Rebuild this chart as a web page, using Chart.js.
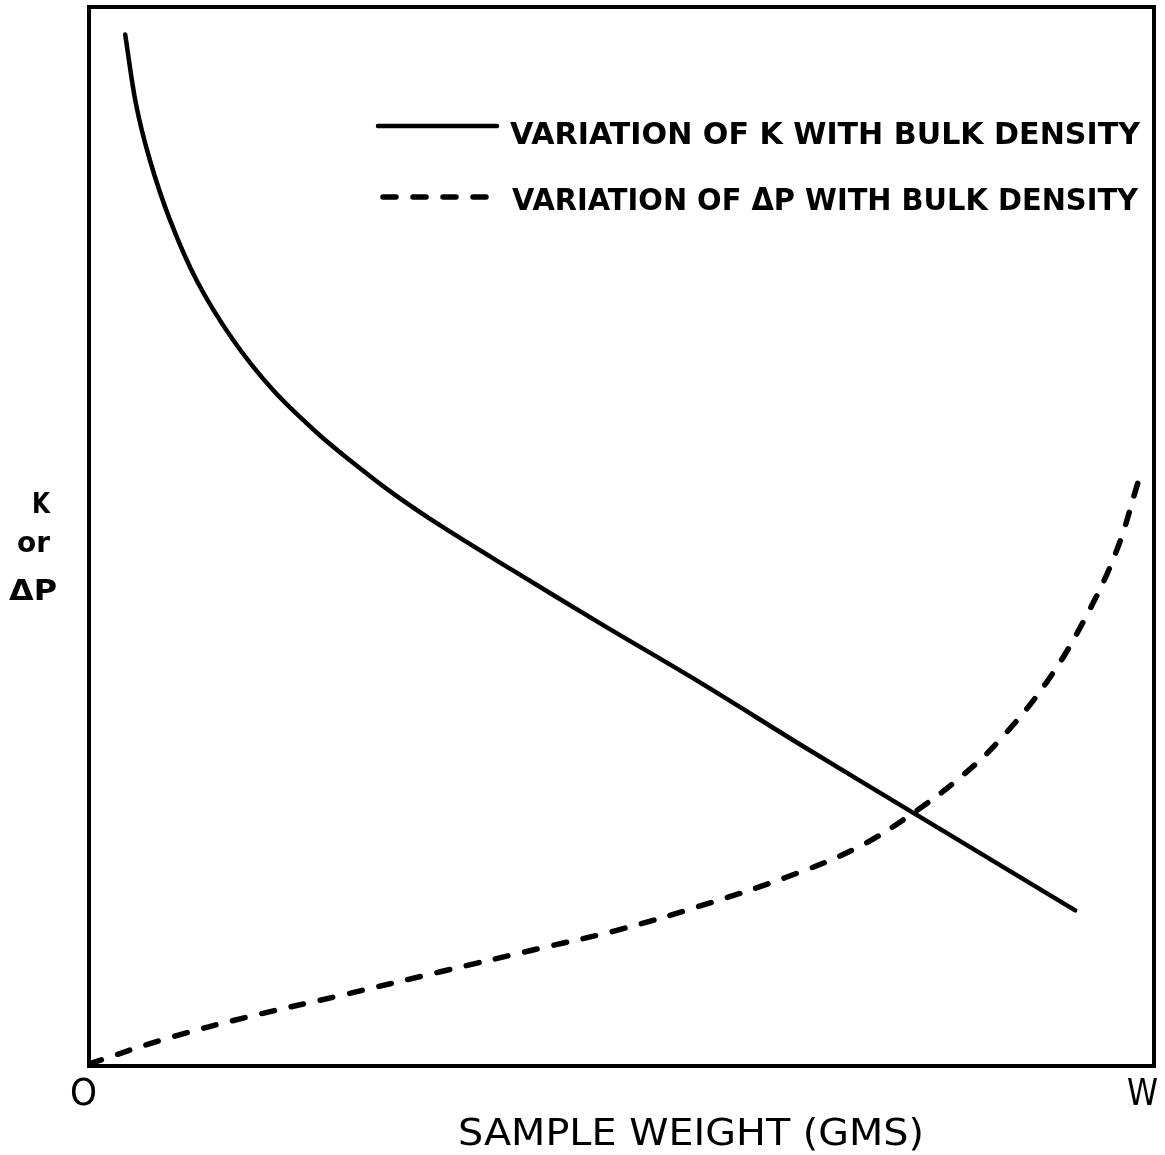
<!DOCTYPE html>
<html>
<head>
<meta charset="utf-8">
<script src="https://cdn.jsdelivr.net/npm/chart.js@4.4.1/dist/chart.umd.min.js"></script>
<style>
  html, body { margin: 0; padding: 0; background: #fff; }
</style>
</head>
<body>
<canvas id="myChart" width="1165" height="1155"></canvas>
<script>
// sample weight runs from O (0) to W (100); K and dP are relative (0-100)
const kWeight = [3.4, 4.4, 5.7, 7.6, 10.1, 13.5, 17.3, 21.4, 24.5, 28.5, 33.2, 39.8, 48.0, 57.4, 67.2, 77.4, 92.6];
const kValue = [97.4, 90.9, 85.6, 79.9, 74.2, 68.6, 63.8, 59.8, 57.2, 54.1, 50.9, 46.8, 41.8, 36.2, 30.1, 23.9, 14.7];

const dpWeight = [0, 7.3, 15.2, 23.8, 33.0, 42.3, 49.9, 58.3, 65.4, 72.1, 77.4, 82.1, 85.8, 90.1, 93.7, 96.5, 98.5];
const dpValue = [0.2, 2.6, 4.7, 6.7, 8.9, 11.1, 12.9, 15.4, 17.8, 20.6, 23.9, 27.5, 31.1, 36.5, 42.6, 48.7, 55.1];

const xTickLabels = ["O", "W"];
const xTitle = "SAMPLE WEIGHT (GMS)";
const yTitle = ["K", "or", "\u0394P"];
const legendLabels = ["VARIATION OF K WITH BULK DENSITY", "VARIATION OF \u0394P WITH BULK DENSITY"];

const toPoints = (xs, ys) => xs.map((x, i) => ({ x: x, y: ys[i] }));

// draw text squeezed/stretched to a given width, left edge at x, baseline at y
function fitText(ctx, text, x, y, width, font) {
  ctx.save();
  ctx.font = font;
  const w = ctx.measureText(text).width;
  ctx.translate(x, y);
  ctx.scale(width / w, 1);
  ctx.textAlign = "left";
  ctx.textBaseline = "alphabetic";
  ctx.fillText(text, 0, 0);
  ctx.restore();
}

const paperPlugin = {
  id: "paper",
  afterDraw(chart) {
    const ctx = chart.ctx;
    const area = chart.chartArea;
    const xs = chart.scales.x;
    ctx.save();
    ctx.fillStyle = "#000";
    ctx.strokeStyle = "#000";

    // frame
    ctx.lineWidth = 4;
    ctx.strokeRect(area.left, area.top, area.right - area.left, area.bottom - area.top);

    // O and W under the axis ends
    fitText(ctx, xTickLabels[0], xs.getPixelForValue(0) - 19, 1105, 27, "38px 'DejaVu Sans'");
    fitText(ctx, xTickLabels[1], xs.getPixelForValue(100) - 27, 1105, 31, "38px 'DejaVu Sans'");
    fitText(ctx, xTitle, 458, 1145, 466, "38px 'DejaVu Sans'");

    // K / or / dP on the left
    fitText(ctx, yTitle[0], 32, 513, 18, "bold 29px 'DejaVu Sans'");
    fitText(ctx, yTitle[1], 17, 552, 33, "bold 29px 'DejaVu Sans'");
    fitText(ctx, yTitle[2], 9, 600, 48, "bold 29px 'DejaVu Sans'");

    // legend inside the plot
    const rows = [
      { y: 126, x0: 378, text: legendLabels[0], tx: 510, tw: 630, ty: 144 },
      { y: 197, x0: 383, text: legendLabels[1], tx: 512, tw: 626, ty: 210 },
    ];
    rows.forEach((r, i) => {
      const ds = chart.data.datasets[i];
      ctx.save();
      ctx.lineWidth = ds.borderWidth;
      ctx.lineCap = "round";
      ctx.setLineDash(ds.borderDash || []);
      ctx.beginPath();
      ctx.moveTo(r.x0, r.y);
      ctx.lineTo(497, r.y);
      ctx.stroke();
      ctx.restore();
      fitText(ctx, r.text, r.tx, r.ty, r.tw, "bold 31px 'DejaVu Sans'");
    });
    ctx.restore();
  },
};

const config = {
  type: "line",
  data: {
    datasets: [
      {
        label: legendLabels[0],
        data: toPoints(kWeight, kValue),
        borderColor: "#000",
        borderWidth: 4.5,
        borderCapStyle: "round",
        borderJoinStyle: "round",
        tension: 0.35,
        pointRadius: 0,
        fill: false,
      },
      {
        label: legendLabels[1],
        data: toPoints(dpWeight, dpValue),
        borderColor: "#000",
        borderWidth: 5.5,
        borderDash: [13, 17],
        borderCapStyle: "round",
        borderJoinStyle: "round",
        tension: 0.4,
        pointRadius: 0,
        fill: false,
      },
    ],
  },
  options: {
    responsive: false,
    animation: false,
    devicePixelRatio: 1,
    layout: { padding: { left: 89, right: 11, top: 7, bottom: 89 } },
    plugins: {
      legend: { display: false },
      tooltip: { enabled: false },
    },
    scales: {
      x: { type: "linear", min: 0, max: 100, display: false },
      y: { type: "linear", min: 0, max: 100, display: false },
    },
  },
  plugins: [paperPlugin],
};

const myChart = new Chart(document.getElementById("myChart"), config);
</script>
</body>
</html>
